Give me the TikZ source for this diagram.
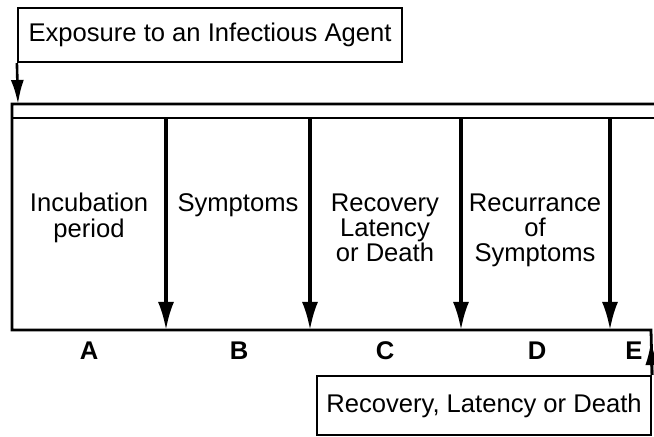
\documentclass[tikz,border=0pt]{standalone}
\usepackage{fontspec}
\setmainfont{Liberation Sans}
\usetikzlibrary{arrows.meta}
\tikzset{stage/.style={align=center, inner sep=0pt, anchor=north, font=\fontsize{12.8}{12.6}\selectfont},
letter/.style={inner sep=0pt, font=\fontsize{12.8}{12.6}\selectfont\bfseries},
box/.style={draw=black, line width=1.1pt, inner sep=0pt, font=\fontsize{12.8}{14}\selectfont},
frame/.style={line width=1.4pt},
tip/.style={-{Latex[length=14pt,width=8pt]}, line width=1.6pt},
%smaller heads for the two outer arrows
tipsmall/.style={-{Latex[length=12pt,width=6.5pt]}, line width=1.3pt}}

\begin{document}
\begin{tikzpicture}[x=0.5pt,y=-0.5pt]
\useasboundingbox (0,0) rectangle (654,437);

% the two outer boxes
\node[box, minimum width=192pt, minimum height=27pt] (expo) at (210,35) {Exposure to an Infectious Agent};
\node[box, minimum width=167pt, minimum height=29.5pt] (rec) at (484,405.5) {Recovery, Latency or Death};

% band and frame
\draw[frame] (654,104) -- (12,104) -- (12,330) -- (651,330) -- (rec.north east);
\draw[frame] (12,118) -- (654,118);

\coordinate (hit) at (18,104);
\draw[tipsmall] (expo.south west) -- (hit);
\coordinate (back) at (651,341);
\draw[tipsmall] (rec.north east) -- (back);

%stage borders
\foreach \x in {166,310,461,610}{
     \coordinate (t\x) at (\x,118);
     \coordinate (b\x) at (\x,330);
     \draw[tip] (t\x) -- (b\x);
}

%stages
\node[stage] (incub) at (89,193) {Incubation\\period};
\node[stage] (sympt) at (238,193) {Symptoms};
\node[stage] (latent) at (385,193) {Recovery\\Latency\\or Death};
\node[stage] (recur) at (535,193) {Recurrance\\of\\Symptoms};

%labels
\foreach \x/\name in {89/A,239/B,385/C,537/D,634/E}
     \node[letter] (l\name) at (\x,351) {\name};

\end{tikzpicture}
\end{document}
